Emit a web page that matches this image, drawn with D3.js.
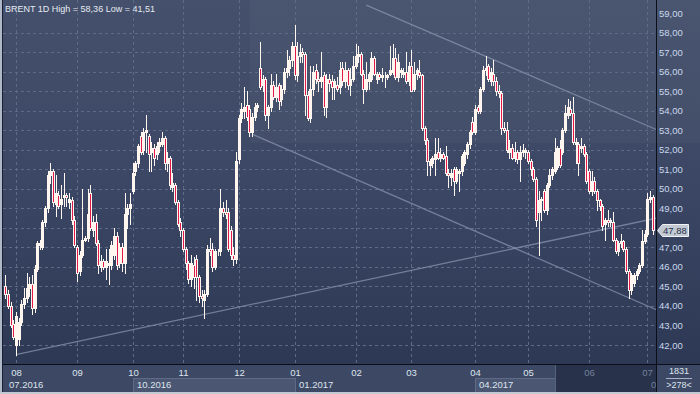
<!DOCTYPE html>
<html>
<head>
<meta charset="utf-8">
<script src="https://cdn.jsdelivr.net/npm/d3@7"></script>
<style>
  html, body { margin: 0; padding: 0; background: #3a4662; }
  svg { display: block; font-family: "Liberation Sans", Arial, sans-serif; }
</style>
</head>
<body>
<svg id="chart" width="700" height="394"></svg>
<script>
// daily candles, [open, high, low, close], one list per month
const jul16 = [
  [45.0, 45.6, 44.4, 44.6], [44.6, 44.8, 43.9, 44.0], [44.0, 44.2, 42.9, 43.0], [43.1, 43.3, 42.3, 42.4]
];
const aug16 = [
  [42.0, 43.7, 41.51, 43.5], [42.3, 43.4, 42.0, 43.2], [43.2, 44.3, 43.0, 44.1], [44.1, 44.9, 43.9, 44.4],
  [44.4, 45.7, 44.2, 44.9], [44.9, 45.5, 44.5, 45.1], [45.1, 45.6, 43.6, 43.9], [43.9, 46.1, 43.7, 45.9],
  [45.9, 47.3, 45.8, 47.2], [47.1, 47.4, 46.9, 47.2], [47.0, 48.4, 46.9, 48.3], [48.3, 49.1, 48.1, 49.0],
  [49.0, 50.9, 48.8, 50.7], [50.7, 51.3, 50.3, 50.9], [50.9, 51.0, 49.1, 49.3], [49.2, 50.7, 48.6, 49.8],
  [49.7, 49.9, 49.0, 49.1], [49.2, 50.2, 48.5, 49.5], [49.6, 50.8, 49.1, 49.7], [49.7, 49.8, 49.1, 49.6],
  [49.3, 49.8, 49.0, 49.5], [49.4, 49.6, 48.2, 48.4], [48.4, 48.6, 47.0, 47.1]
];
const sep16 = [
  [47.0, 47.1, 45.3, 45.7], [45.8, 46.8, 45.6, 46.6], [46.6, 50.0, 46.5, 47.4], [47.4, 47.6, 47.3, 47.5],
  [47.5, 50.0, 47.3, 48.7], [49.8, 50.2, 47.9, 48.0], [47.9, 48.6, 47.6, 48.3], [48.3, 48.7, 47.1, 47.2],
  [47.2, 47.4, 45.7, 46.1], [46.0, 46.6, 45.8, 46.3], [46.3, 46.4, 45.9, 46.0], [46.0, 46.9, 45.4, 46.3],
  [46.1, 46.9, 45.1, 46.2], [46.1, 47.3, 45.9, 47.1], [46.6, 48.0, 46.4, 47.6], [47.6, 47.8, 45.9, 46.1],
  [46.2, 47.2, 46.0, 47.0], [47.0, 47.2, 45.8, 46.2], [46.2, 49.8, 45.7, 48.7], [48.7, 49.2, 48.0, 49.0],
  [49.0, 49.8, 48.2, 49.2]
];
const oct16 = [
  [49.9, 51.3, 49.8, 50.8], [50.9, 51.4, 50.7, 51.3], [51.3, 52.3, 51.1, 52.2], [52.7, 52.9, 51.8, 51.9],
  [52.0, 53.1, 51.8, 52.9], [52.9, 53.8, 51.9, 53.0], [52.7, 52.8, 50.9, 51.8], [51.9, 52.4, 50.9, 52.1],
  [52.1, 52.3, 51.2, 51.6], [51.8, 52.4, 51.5, 52.2], [52.2, 52.6, 51.9, 52.4], [52.3, 52.9, 52.2, 52.6],
  [52.6, 52.7, 51.0, 51.3], [51.3, 51.9, 50.9, 51.6], [51.6, 51.7, 50.0, 50.2], [50.1, 50.8, 49.9, 50.3],
  [50.2, 50.3, 49.2, 49.3], [49.3, 49.4, 48.1, 48.2], [48.3, 48.5, 47.6, 47.9]
];
const nov16 = [
  [47.9, 48.0, 46.8, 46.9], [46.9, 47.0, 45.9, 46.2], [46.2, 46.3, 45.2, 45.4], [45.4, 46.6, 45.0, 46.2],
  [46.1, 46.5, 44.9, 45.5], [46.4, 46.6, 44.3, 45.5], [45.5, 45.6, 44.2, 44.5], [44.5, 44.8, 44.0, 44.4],
  [44.3, 44.8, 43.4, 44.6], [44.6, 47.1, 44.5, 46.9], [46.9, 47.5, 46.6, 46.8], [46.9, 47.2, 45.8, 46.0],
  [46.0, 46.9, 45.9, 46.8], [46.8, 46.9, 46.6, 46.8], [46.8, 50.0, 46.6, 49.0], [49.0, 49.3, 48.6, 48.8],
  [48.8, 49.4, 48.5, 48.7], [48.8, 49.0, 46.8, 46.9], [47.9, 48.1, 46.4, 46.6], [46.6, 47.0, 46.1, 46.4],
  [46.4, 51.9, 46.2, 51.4]
];
const dec16 = [
  [51.5, 53.8, 51.3, 53.6], [53.6, 54.4, 53.4, 54.1], [54.0, 55.2, 53.6, 54.2], [54.3, 55.0, 53.5, 53.7],
  [54.1, 54.3, 52.7, 52.9], [52.9, 53.9, 52.7, 53.7], [53.7, 54.4, 53.5, 54.2], [54.2, 54.4, 54.0, 54.3],
  [56.2, 57.5, 55.1, 55.2], [55.3, 55.8, 55.0, 55.6], [55.6, 55.7, 53.5, 53.8], [53.8, 54.3, 53.1, 54.2],
  [54.2, 55.9, 54.0, 55.3], [55.3, 55.5, 54.6, 54.7], [54.7, 55.9, 54.5, 55.2], [55.3, 55.4, 54.1, 54.5],
  [54.6, 55.3, 54.3, 55.1], [55.1, 56.2, 54.9, 56.0], [56.0, 57.1, 55.7, 56.2], [56.2, 56.8, 55.8, 56.6],
  [56.6, 57.5, 56.3, 57.3]
];
const jan17 = [
  [57.3, 58.36, 55.6, 55.8], [55.8, 57.5, 55.5, 56.8], [56.8, 57.4, 56.5, 57.0], [57.0, 57.2, 56.5, 56.9],
  [56.9, 57.0, 53.8, 54.8], [54.8, 55.0, 53.5, 53.6], [53.6, 56.3, 53.4, 55.1], [55.1, 56.3, 54.8, 56.0],
  [56.1, 56.4, 55.4, 55.6], [55.6, 56.0, 55.0, 55.5], [55.5, 57.0, 55.2, 55.7], [55.8, 56.0, 53.8, 54.2],
  [54.2, 55.9, 53.7, 55.6], [55.6, 55.9, 55.0, 55.4], [55.5, 55.8, 54.6, 55.2], [55.2, 55.6, 54.6, 55.5],
  [55.3, 55.7, 55.0, 55.1], [55.2, 56.5, 54.9, 56.1], [56.2, 56.5, 55.3, 55.5], [55.5, 56.5, 55.2, 56.1],
  [56.1, 56.2, 55.1, 55.3], [55.3, 56.2, 54.8, 55.6], [55.6, 56.8, 55.5, 56.3]
];
const feb17 = [
  [56.3, 57.4, 56.2, 56.8], [56.8, 57.3, 56.5, 56.9], [56.9, 57.0, 55.8, 55.9], [55.9, 56.1, 54.4, 55.1],
  [55.1, 56.5, 55.0, 55.6], [55.5, 56.0, 55.1, 55.9], [55.6, 57.0, 55.5, 56.7], [56.7, 56.8, 55.8, 55.9],
  [55.6, 56.0, 55.4, 55.9], [55.9, 56.0, 55.6, 55.7], [55.7, 56.2, 55.5, 55.8], [55.8, 56.0, 55.2, 55.8],
  [55.7, 55.9, 55.6, 55.8], [55.9, 57.3, 55.8, 56.1], [56.0, 57.4, 55.9, 56.7], [56.7, 57.2, 55.6, 55.7],
  [55.7, 56.9, 55.5, 56.5], [56.0, 56.2, 55.7, 56.1], [55.9, 56.2, 55.7, 56.0], [56.0, 57.0, 55.4, 55.5],
  [55.5, 56.5, 55.3, 56.3]
];
const mar17 = [
  [56.3, 57.1, 55.0, 55.0], [55.1, 56.5, 55.0, 55.9], [55.9, 56.2, 55.6, 56.1], [56.0, 56.6, 55.7, 55.8],
  [55.8, 55.9, 53.0, 53.1], [53.1, 53.2, 52.3, 52.5], [52.5, 52.6, 50.7, 51.4], [51.2, 51.5, 50.7, 51.4],
  [51.3, 51.7, 51.1, 51.6], [51.5, 52.6, 50.7, 51.8], [51.9, 52.6, 51.5, 51.6], [51.6, 52.1, 51.4, 51.8],
  [51.8, 51.9, 51.5, 51.6], [51.7, 52.2, 50.7, 50.8], [50.8, 51.0, 50.1, 50.7], [50.6, 51.0, 50.2, 50.8],
  [51.0, 51.1, 49.7, 50.4], [50.4, 51.1, 50.3, 51.0], [50.8, 51.0, 49.9, 50.9], [50.9, 51.8, 50.7, 51.7],
  [51.3, 52.0, 51.2, 51.9], [51.8, 52.4, 51.6, 52.3], [52.3, 53.0, 52.1, 52.9], [53.4, 53.7, 52.8, 52.9]
];
const apr17 = [
  [52.9, 54.3, 52.8, 54.1], [54.2, 54.3, 53.9, 54.0], [54.0, 55.2, 53.9, 55.1], [55.1, 56.3, 55.0, 56.1],
  [56.1, 56.8, 55.8, 56.2], [56.3, 56.4, 55.5, 55.6], [55.5, 56.2, 55.3, 56.0], [55.9, 56.6, 55.3, 55.5],
  [55.5, 55.7, 54.8, 55.0], [55.0, 55.3, 54.7, 54.9], [54.9, 55.0, 52.8, 53.1], [53.1, 53.4, 52.9, 53.0],
  [53.0, 53.4, 51.9, 52.0], [51.9, 52.5, 51.6, 52.1], [52.1, 52.3, 51.5, 51.6], [51.6, 52.4, 51.4, 51.9],
  [51.9, 52.0, 51.3, 51.5], [51.5, 52.2, 50.4, 51.9], [51.9, 52.3, 51.7, 52.0], [51.9, 52.1, 51.6, 52.0]
];
const may17 = [
  [51.9, 52.0, 51.3, 51.4], [51.4, 51.5, 50.7, 51.0], [51.0, 51.1, 50.4, 50.5], [50.5, 50.6, 48.1, 48.4],
  [48.8, 49.9, 46.6, 49.4], [49.4, 49.6, 48.4, 49.5], [49.9, 50.0, 48.8, 48.9], [48.9, 50.3, 48.7, 50.2],
  [50.2, 51.0, 50.1, 50.7], [50.7, 51.1, 50.5, 51.0], [50.9, 52.6, 50.8, 51.9], [51.1, 52.2, 51.0, 52.1],
  [52.1, 52.5, 51.1, 51.2], [51.9, 53.1, 51.8, 53.0], [53.0, 54.3, 52.9, 53.9], [53.8, 54.6, 53.6, 54.2],
  [54.1, 54.5, 53.8, 53.9], [53.9, 54.7, 52.3, 52.4], [52.3, 52.6, 51.3, 52.4], [52.3, 52.4, 50.7, 51.3],
  [52.1, 52.6, 51.9, 52.2], [52.2, 52.3, 51.7, 51.8], [51.8, 51.9, 50.3, 50.4]
];
const jun17 = [
  [50.9, 51.0, 49.8, 49.9], [49.9, 50.9, 49.7, 50.4], [50.4, 50.6, 49.8, 49.9], [49.9, 50.0, 48.9, 49.4],
  [49.4, 49.5, 48.9, 49.1], [49.1, 49.2, 47.9, 48.1], [48.2, 48.5, 47.4, 48.4], [48.4, 48.9, 48.1, 48.3],
  [48.3, 48.5, 48.1, 48.4], [48.3, 48.8, 47.3, 47.4], [47.4, 47.5, 46.7, 46.8], [46.8, 47.3, 46.6, 47.2],
  [47.2, 47.7, 47.0, 47.3], [47.3, 47.4, 46.8, 46.9], [46.9, 47.0, 45.7, 45.8], [45.8, 45.9, 44.4, 44.8],
  [44.8, 45.7, 44.6, 45.6], [45.2, 45.7, 45.0, 45.6], [45.6, 45.9, 45.4, 45.8], [45.8, 46.2, 45.7, 46.1],
  [46.1, 47.9, 46.0, 47.3], [47.3, 47.9, 47.2, 47.7]
];
const jul17 = [
  [47.7, 49.8, 47.6, 49.5], [49.5, 49.9, 49.3, 49.6], [49.6, 49.7, 47.7, 47.88]
];

const monthLabels = ['08', '09', '10', '11', '12', '01', '02', '03', '04', '05', '06', '07'];
const quarterLabels = ['07.2016', '10.2016', '01.2017', '04.2017', '07.2017'];
const priceTicks = d3.range(42, 59);
const priceLabels = d3.range(42, 60);
// trend lines as [candle index, price]
const supportLine = [[4, 41.51], [245.6, 48.5]];
const channelTop = [[136, 59.4], [245.6, 53.02]];
const channelBottom = [[93, 52.8], [245.6, 43.79]];
const barInfo = ['1831', '>278<'];

const monthBlocks = [jul16, aug16, sep16, oct16, nov16, dec16, jan17, feb17, mar17, apr17, may17, jun17, jul17];
const candles = monthBlocks.flat();
const monthStarts = [];
monthBlocks.reduce((acc, block, k) => {
  if (k > 0) monthStarts.push(acc);
  return acc + block.length;
}, 0);

const comma = d3.formatLocale({ decimal: ',', thousands: '.', grouping: [3], currency: ['', ''] }).format('.2f');

class CandleChart {
  constructor (params) {
    Object.keys(params).forEach(key => {
      this[key] = params[key];
    });
    this.svg = d3.select(this.selector);
    this.x = d3.scaleLinear().domain([0, this.data.length]).range([this.plot.left + 1, this.plot.right - 2]);
    this.y = d3.scaleLinear().domain([42, 59]).range([345, 13]);
  }

  cx (i) {
    return Math.round(this.x(i + 0.5));
  }

  render () {
    this.drawBackground();
    this.drawGrid();
    this.drawTrendLines();
    this.drawCandles();
    this.drawTimeAxis();
    this.drawPriceAxis();
    this.drawFrame();
    this.drawTitle();
    return 0;
  }

  drawBackground () {
    const defs = this.svg.append('defs');
    const grad = defs.append('linearGradient')
      .attr('id', 'bg')
      .attr('x1', 0).attr('y1', 0).attr('x2', 0).attr('y2', 1);
    grad.append('stop').attr('offset', '0%').attr('stop-color', '#45516c');
    grad.append('stop').attr('offset', '45%').attr('stop-color', '#3b4764');
    grad.append('stop').attr('offset', '100%').attr('stop-color', '#2b3652');

    defs.append('clipPath').attr('id', 'plotClip')
      .append('rect')
      .attr('x', this.plot.left).attr('y', 0)
      .attr('width', this.plot.right - this.plot.left)
      .attr('height', this.plot.bottom);

    this.svg.append('rect')
      .attr('width', 700).attr('height', 394)
      .attr('fill', 'url(#bg)');

    // lighter panel in the upper right
    this.svg.append('rect')
      .attr('x', 250).attr('y', 0)
      .attr('width', 450).attr('height', 143)
      .attr('fill', '#ffffff')
      .attr('opacity', 0.03);
  }

  drawGrid () {
    const g = this.svg.append('g')
      .attr('stroke', '#5e6b87')
      .attr('stroke-dasharray', '3,3')
      .attr('stroke-width', 1);

    g.selectAll('line.h')
      .data(priceTicks)
      .enter()
      .append('line')
      .attr('class', 'h')
      .attr('x1', this.plot.left)
      .attr('x2', this.plot.right)
      .attr('y1', d => Math.round(this.y(d)) + 0.5)
      .attr('y2', d => Math.round(this.y(d)) + 0.5);

    g.selectAll('line.v')
      .data(monthStarts)
      .enter()
      .append('line')
      .attr('class', 'v')
      .attr('x1', d => this.cx(d) + 0.5)
      .attr('x2', d => this.cx(d) + 0.5)
      .attr('y1', 0)
      .attr('y2', this.plot.bottom);
  }

  drawTrendLines () {
    const line = d3.line()
      .x(d => this.x(d[0] + 0.5))
      .y(d => this.y(d[1]));

    this.svg.append('g')
      .attr('clip-path', 'url(#plotClip)')
      .selectAll('path')
      .data([supportLine, channelTop, channelBottom])
      .enter()
      .append('path')
      .attr('d', line)
      .attr('fill', 'none')
      .attr('stroke', '#8893ad')
      .attr('stroke-opacity', 0.75)
      .attr('stroke-width', 1.3);
  }

  drawCandles () {
    const g = this.svg.append('g').attr('clip-path', 'url(#plotClip)');
    const py = v => Math.round(this.y(v)) + 0.5;

    g.selectAll('line.wick')
      .data(this.data)
      .enter()
      .append('line')
      .attr('class', 'wick')
      .attr('x1', (d, i) => this.cx(i) + 0.5)
      .attr('x2', (d, i) => this.cx(i) + 0.5)
      .attr('y1', d => py(d[1]) - 0.5)
      .attr('y2', d => py(d[2]) + 0.5)
      .attr('stroke', this.upColor)
      .attr('stroke-width', 1);

    g.selectAll('rect.body')
      .data(this.data)
      .enter()
      .append('rect')
      .attr('class', 'body')
      .attr('x', (d, i) => this.cx(i) - 0.5)
      .attr('y', d => py(Math.max(d[0], d[3])))
      .attr('width', 2)
      .attr('height', d => Math.max(0, py(Math.min(d[0], d[3])) - py(Math.max(d[0], d[3]))))
      .attr('fill', d => (d[3] < d[0] ? this.downColor : this.upColor))
      .attr('stroke', this.upColor)
      .attr('stroke-width', 1);
  }

  drawTimeAxis () {
    const top = this.plot.bottom;
    const g = this.svg.append('g');

    g.append('rect')
      .attr('x', 0).attr('y', top)
      .attr('width', 700).attr('height', 394 - top)
      .attr('fill', '#3c4864');

    const quarterIdx = [0, monthStarts[2], monthStarts[5], monthStarts[8], monthStarts[11]];
    const boxes = [[quarterIdx[1], quarterIdx[2]], [quarterIdx[3], null]];

    g.selectAll('rect.quarter')
      .data(boxes)
      .enter()
      .append('rect')
      .attr('class', 'quarter')
      .attr('x', d => this.cx(d[0]) + 0.5)
      .attr('y', 378.5)
      .attr('width', d => (d[1] === null ? this.hiddenFrom : this.cx(d[1])) - this.cx(d[0]))
      .attr('height', 14)
      .attr('fill', '#4a5672')
      .attr('stroke', '#5f6b86');

    // darker, out-of-window part of the time line
    g.append('rect')
      .attr('x', this.hiddenFrom).attr('y', top + 1)
      .attr('width', this.plot.right - this.hiddenFrom).attr('height', 392 - top - 1)
      .attr('fill', '#28324b');
    g.append('line')
      .attr('x1', this.hiddenFrom + 0.5).attr('x2', this.hiddenFrom + 0.5)
      .attr('y1', top + 1).attr('y2', 392)
      .attr('stroke', '#56617a');

    g.selectAll('text.month')
      .data(monthStarts)
      .enter()
      .append('text')
      .attr('class', 'month')
      .attr('x', d => this.cx(d) + 0.5)
      .attr('y', top + 12)
      .attr('text-anchor', 'middle')
      .attr('font-size', '9.5px')
      .attr('fill', d => (this.cx(d) > this.hiddenFrom ? '#75819b' : '#dfe5ef'))
      .text((d, i) => monthLabels[i]);

    // quarter labels live in a nested viewport so the last one is cut at the plot edge
    const qv = g.append('svg')
      .attr('x', 0).attr('y', top)
      .attr('width', this.plot.right).attr('height', 394 - top)
      .attr('overflow', 'hidden');

    qv.selectAll('text.quarter')
      .data(quarterIdx)
      .enter()
      .append('text')
      .attr('class', 'quarter')
      .attr('x', d => this.cx(d) + 4)
      .attr('y', 24)
      .attr('font-size', '9.5px')
      .attr('fill', d => (this.cx(d) > this.hiddenFrom ? '#75819b' : '#dfe5ef'))
      .text((d, i) => quarterLabels[i]);

    // bar counter box at the right end
    const bx = (this.plot.right + 700) / 2 + 1;
    g.append('text')
      .attr('x', bx).attr('y', top + 10)
      .attr('text-anchor', 'middle')
      .attr('font-size', '9px')
      .attr('fill', '#dfe5ef')
      .text(barInfo[0]);
    g.append('line')
      .attr('x1', bx - 13).attr('x2', bx + 13)
      .attr('y1', top + 14.5).attr('y2', top + 14.5)
      .attr('stroke', '#aab3c5');
    g.append('text')
      .attr('x', bx).attr('y', top + 24)
      .attr('text-anchor', 'middle')
      .attr('font-size', '9px')
      .attr('fill', '#dfe5ef')
      .text(barInfo[1]);
  }

  drawPriceAxis () {
    const last = this.data[this.data.length - 1][3];
    const ly = Math.round(this.y(last)) + 0.5;

    // labels hidden behind the last price marker are left out
    const axis = d3.axisRight(this.y)
      .tickValues(priceLabels.filter(p => Math.abs(this.y(p) - ly) > 10))
      .tickSize(0)
      .tickPadding(3)
      .tickFormat(comma);

    const g = this.svg.append('g')
      .attr('transform', `translate(${this.plot.right},0)`)
      .call(axis);
    g.select('.domain').remove();
    g.selectAll('text')
      .attr('font-family', '"Liberation Sans", Arial, sans-serif')
      .attr('font-size', '9.5px')
      .attr('fill', '#cad8ee');

    // last price marker
    const l = this.plot.right + 1.5;
    this.svg.append('path')
      .attr('d', `M${l},${ly} L${l + 5},${ly - 6} H${l + 31} V${ly + 6} H${l + 5} Z`)
      .attr('fill', '#c3c9d3')
      .attr('stroke', '#eef1f5');
    this.svg.append('text')
      .attr('x', l + 5.5)
      .attr('y', ly + 3.5)
      .attr('font-size', '9.5px')
      .attr('fill', '#27314a')
      .text(comma(last));
  }

  drawFrame () {
    this.svg.append('line')
      .attr('x1', 0).attr('x2', 700)
      .attr('y1', this.plot.bottom + 0.5).attr('y2', this.plot.bottom + 0.5)
      .attr('stroke', '#0b0f18');
    this.svg.append('line')
      .attr('x1', this.plot.right + 0.5).attr('x2', this.plot.right + 0.5)
      .attr('y1', 0).attr('y2', 394)
      .attr('stroke', '#0b0f18');
    this.svg.append('rect')
      .attr('x', 0).attr('y', 0).attr('width', 2).attr('height', 394)
      .attr('fill', '#aeb8c9');
    this.svg.append('line')
      .attr('x1', 2.5).attr('x2', 2.5).attr('y1', 0).attr('y2', 392)
      .attr('stroke', '#1a2030');
    this.svg.append('rect')
      .attr('x', 0).attr('y', 392).attr('width', 700).attr('height', 2)
      .attr('fill', '#c2c9d5');
  }

  drawTitle () {
    const hi = d3.max(this.data, d => d[1]);
    const lo = d3.min(this.data, d => d[2]);
    this.svg.append('text')
      .attr('x', 5)
      .attr('y', 12)
      .attr('font-size', '9px')
      .attr('fill', '#e6eaf2')
      .text(`BRENT 1D High = ${comma(hi)} Low = ${comma(lo)}`);
  }
}

new CandleChart({
  selector: '#chart',
  data: candles,
  plot: { left: 3, right: 656, bottom: 364 },
  hiddenFrom: 555,
  upColor: '#fff6f0',
  downColor: '#e3184b'
}).render();
</script>
</body>
</html>
